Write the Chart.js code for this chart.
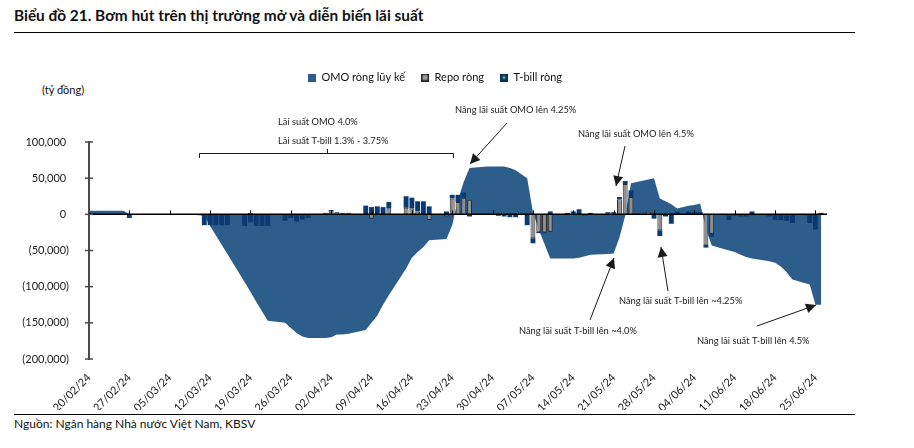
<!DOCTYPE html>
<html><head><meta charset="utf-8">
<script src="https://cdn.jsdelivr.net/npm/chart.js@4.4.1/dist/chart.umd.min.js"></script>
<style>
body{margin:0;background:#fff;width:914px;height:448px;overflow:hidden;font-family:Lato,sans-serif;color:#111;}
#title{position:absolute;left:14px;top:6px;font-weight:bold;font-size:15.4px;color:#111;white-space:nowrap;}
#tl{position:absolute;left:14px;top:32px;width:841px;height:1px;background:#000;}
#bl{position:absolute;left:14px;top:414px;width:841px;height:1px;background:#000;}
#src{position:absolute;left:14px;top:416px;font-size:12px;color:#111;white-space:nowrap;}
#unit{position:absolute;left:42px;top:83px;font-size:11px;color:#111;}
#wrap{position:absolute;left:0;top:0;width:870px;height:410px;}
</style></head>
<body>
<div id="title">Biểu đồ 21. Bơm hút trên thị trường mở và diễn biến lãi suất</div>
<div id="tl"></div>
<div id="unit">(tỷ đồng)</div>
<div id="wrap"><canvas id="c" width="870" height="410"></canvas></div>
<div id="bl"></div>
<div id="src">Nguồn: Ngân hàng Nhà nước Việt Nam, KBSV</div>
<script>
// ---- DATA ----
const seriesNames = ['OMO ròng lũy kế', 'Repo ròng', 'T-bill ròng'];
const firstDay = '20/02/2024';
const lastDay = '27/06/2024';
const yTicks = [-200000, -150000, -100000, -50000, 0, 50000, 100000];
const workDays = ['20/02','21/02','22/02','23/02',
 '26/02','27/02','28/02','29/02','01/03',
 '04/03','05/03','06/03','07/03','08/03',
 '11/03','12/03','13/03','14/03','15/03',
 '18/03','19/03','20/03','21/03','22/03',
 '25/03','26/03','27/03','28/03','29/03',
 '01/04','02/04','03/04','04/04','05/04',
 '08/04','09/04','10/04','11/04','12/04',
 '15/04','16/04','17/04','18/04','19/04',
 '22/04','23/04','24/04','25/04','26/04',
 '29/04','30/04','01/05','02/05','03/05','04/05',
 '06/05','07/05','08/05','09/05','10/05',
 '13/05','14/05','15/05','16/05','17/05',
 '20/05','21/05','22/05','23/05','24/05',
 '27/05','28/05','29/05','30/05','31/05','01/06',
 '03/06','04/06','05/06','06/06','07/06',
 '10/06','11/06','12/06','13/06','14/06',
 '17/06','18/06','19/06','20/06','21/06',
 '24/06','25/06','26/06'];
const omoNet = [5000,5000,5000,5000,
 5000,0,0,0,0,
 0,0,0,0,0,
 -2000,-16000,-29000,-42000,-55000,
 -94000,-107000,-121000,-134000,-147000,
 -150000,-157000,-164000,-169000,-171000,
 -171000,-170000,-166000,-166000,-165000,
 -160000,-150000,-140000,-125000,-112000,
 -75000,-60000,-52000,-45000,-36000,
 -34000,-15000,20000,45000,64000,
 66000,66000,66000,66000,64000,61000,
 50000,3000,-21000,-41000,-61000,
 -61000,-61000,-60000,-58000,-56000,
 -55000,-54000,-32000,-2000,43000,
 48000,50000,22000,18000,14000,8000,
 12000,13000,15000,-20000,-43000,
 -50000,-52000,-56000,-59000,-61000,
 -65000,-67000,-72000,-80000,-90000,
 -97000,-125000,-125000];
const repoNet = [null,1000,null,null,
 null,null,null,null,null,
 null,null,null,null,null,
 null,null,null,null,null,
 null,2000,null,null,null,
 null,null,null,null,null,
 1000,4000,2000,1000,1000,
 null,-6000,null,null,8000,
 9000,8000,4000,null,-8000,
 -3000,22000,17000,23000,20000,
 null,null,null,null,null,null,
 null,-33000,-24000,-25000,-24000,
 null,1000,null,null,null,
 1000,1000,21000,42000,24000,
 4000,null,-22000,null,null,null,
 null,null,null,-42000,-27000,
 -2000,null,null,null,null,
 null,null,null,-2000,null,
 null,null,null];
const tbillNet = [3000,null,null,null,
 null,-5000,-1000,null,null,
 null,null,null,null,null,
 -15000,-15000,-15000,-15000,-15000,
 -16000,-11000,-16000,-16000,-16000,
 -9000,-5000,-10000,-7000,-5000,
 1000,2000,1000,1000,1000,
 12000,10000,11000,10000,9000,
 16000,15000,14000,18000,11000,
 4000,5000,10000,7000,-3000,
 null,null,-2000,-3000,-4000,-4000,
 -15000,-7000,-2000,-1000,4000,
 2000,3000,7000,-2000,2000,
 2000,2000,3000,4000,9000,
 null,-6000,-8000,-3000,-13000,4000,
 4000,3000,3000,-4000,-4000,
 -6000,-2000,-3000,-3000,4000,
 -3000,-8000,-8000,-7000,-12000,
 -12000,-21000,2000];

// ---- BUILD CATEGORIES (calendar days) ----
function parseD(s){const p=s.split('/');return new Date(+p[2],+p[1]-1,+p[0]);}
function pad(n){return (n<10?'0':'')+n;}
const categories=[];
for(let d=parseD(firstDay); d<=parseD(lastDay); d.setDate(d.getDate()+1)) categories.push(pad(d.getDate())+'/'+pad(d.getMonth()+1));
function mapSeries(arr){return categories.map(c=>{const i=workDays.indexOf(c);return i<0?null:arr[i];});}

const C_OMO='#2D5E8B', C_REPO='#8F8F8F', C_TB='#0A3A70';
function box(fill, stroke, inner){
  const c=document.createElement('canvas'); c.width=8; c.height=8;
  const x=c.getContext('2d');
  x.fillStyle=stroke||fill; x.fillRect(0,0,8,8);
  x.fillStyle=fill; if(stroke) x.fillRect(1.5,1.5,5,5);
  if(inner){x.fillStyle=inner; x.fillRect(3,3,2,2);}
  return c;
}
const icons=[box(C_OMO), box('#9a9a9a','#222'), box('#1d4a78','#0a2a50','#7bb661')];

function fmtTick(v){ if(v===0) return '0 '; const s=Math.abs(v).toLocaleString('en-US'); return v<0?'('+s+')':s+' '; }

const legendMargin={id:'legendMargin',
  beforeInit(chart){const f=chart.legend.fit;chart.legend.fit=function(){f.bind(chart.legend)();this.height=86;};},
  afterLayout(chart){const L=chart.legend; if(L){L.left+=21.5; L.right+=21.5;}}
};

const marks={id:'marks',afterDatasetsDraw(chart){
  const {ctx,chartArea,scales:{x,y}}=chart;
  const y0=y.getPixelForValue(0);
  ctx.save();
  ctx.strokeStyle='#000'; ctx.lineWidth=1.5;
  ctx.beginPath(); ctx.moveTo(chartArea.left,y0); ctx.lineTo(chartArea.right,y0); ctx.stroke();
  ctx.lineWidth=1;
  categories.forEach((c,i)=>{ if(i%7===0 && i>0){const px=Math.round(x.getPixelForValue(i))+0.5; ctx.beginPath(); ctx.moveTo(px,y0-4); ctx.lineTo(px,y0); ctx.stroke();}});
  ctx.strokeStyle='#4a4a4a'; ctx.lineWidth=1.5;
  yTicks.forEach(v=>{const py=y.getPixelForValue(v); ctx.beginPath(); ctx.moveTo(chartArea.left-4,py); ctx.lineTo(chartArea.left+4,py); ctx.stroke();});
  ctx.restore();
}};

function arrow(ctx,x1,y1,x2,y2){
  ctx.beginPath(); ctx.moveTo(x1,y1); ctx.lineTo(x2,y2); ctx.stroke();
  const a=Math.atan2(y2-y1,x2-x1), L=10, W=5;
  ctx.beginPath(); ctx.moveTo(x2,y2);
  ctx.lineTo(x2-L*Math.cos(a)+W*Math.sin(a), y2-L*Math.sin(a)-W*Math.cos(a));
  ctx.lineTo(x2-L*Math.cos(a)-W*Math.sin(a), y2-L*Math.sin(a)+W*Math.cos(a));
  ctx.closePath(); ctx.fill();
}
const notes={id:'notes',afterDraw(chart){
  const ctx=chart.ctx; ctx.save();
  ctx.font='9.3px Lato'; ctx.fillStyle='#1a1a1a'; ctx.strokeStyle='#1a1a1a'; ctx.textBaseline='middle'; ctx.textAlign='left';
  ctx.fillText('Lãi suất OMO 4.0%',278,122);
  ctx.fillText('Lãi suất T-bill 1.3% - 3.75%',278,141);
  ctx.fillText('Nâng lãi suất OMO lên 4.25%',455,110);
  ctx.fillText('Nâng lãi suất OMO lên 4.5%',578,134);
  ctx.fillText('Nâng lãi suất T-bill lên ~4.25%',619,301);
  ctx.fillText('Nâng lãi suất T-bill lên ~4.0%',519,331);
  ctx.fillText('Nâng lãi suất T-bill lên 4.5%',697,341);
  ctx.lineWidth=1;
  ctx.beginPath(); ctx.moveTo(199.5,158); ctx.lineTo(199.5,153.5); ctx.lineTo(453.5,153.5); ctx.lineTo(453.5,158); ctx.stroke();
  ctx.beginPath(); ctx.moveTo(327.5,153.5); ctx.lineTo(327.5,149); ctx.stroke();
  arrow(ctx,507,123,470,164);
  arrow(ctx,625,146,616,186);
  arrow(ctx,668,291,661,247);
  arrow(ctx,590,320,614,258);
  arrow(ctx,757,326,816,305);
  ctx.restore();
}};

new Chart(document.getElementById('c'),{
  data:{labels:categories,datasets:[
    {type:'line',label:seriesNames[0],data:mapSeries(omoNet),backgroundColor:C_OMO,borderColor:C_OMO,borderWidth:0,fill:'origin',pointRadius:0,tension:0,spanGaps:true,stack:'area',order:10},
    {type:'bar',label:seriesNames[1],data:mapSeries(repoNet),backgroundColor:C_REPO,borderColor:'#2a2a2a',borderWidth:1,stack:'bars',order:1,barPercentage:0.85,categoryPercentage:1},
    {type:'bar',label:seriesNames[2],data:mapSeries(tbillNet),backgroundColor:C_TB,borderWidth:0,stack:'bars',order:2,barPercentage:0.85,categoryPercentage:1}
  ]},
  options:{responsive:false,animation:false,devicePixelRatio:1,
    layout:{padding:{top:56,left:0,right:43,bottom:0}},
    plugins:{
      title:{display:false},tooltip:{enabled:false},
      legend:{display:true,position:'top',align:'center',labels:{usePointStyle:true,pointStyleWidth:8,padding:16,color:'#111',font:{size:11,family:'Lato'},
        generateLabels:(chart)=>chart.data.datasets.map((d,i)=>({text:d.label,pointStyle:icons[i],datasetIndex:i,hidden:false,lineWidth:0,fillStyle:'#000',strokeStyle:'#000',fontColor:'#111'})),
        sort:(a,b)=>a.datasetIndex-b.datasetIndex}}
    },
    scales:{
      x:{type:'category',stacked:true,offset:false,grid:{display:false},border:{display:false},
        ticks:{autoSkip:false,maxRotation:45,minRotation:45,padding:4,color:'#1a1a1a',font:{size:11,family:'Lato'},
          callback:(v,i)=> i%7===0 ? categories[i]+'/24' : ''},
        afterFit:s=>{s.height=51;}},
      y:{stacked:true,min:-200000,max:100000,
        ticks:{stepSize:50000,padding:12,color:'#1a1a1a',font:{size:11,family:'Lato'},callback:v=>fmtTick(v)},
        grid:{display:false},border:{display:true,color:'#4a4a4a',width:2},
        afterFit:s=>{s.width=89;}}
    }
  },
  plugins:[legendMargin,marks,notes]
});
</script>
</body></html>
